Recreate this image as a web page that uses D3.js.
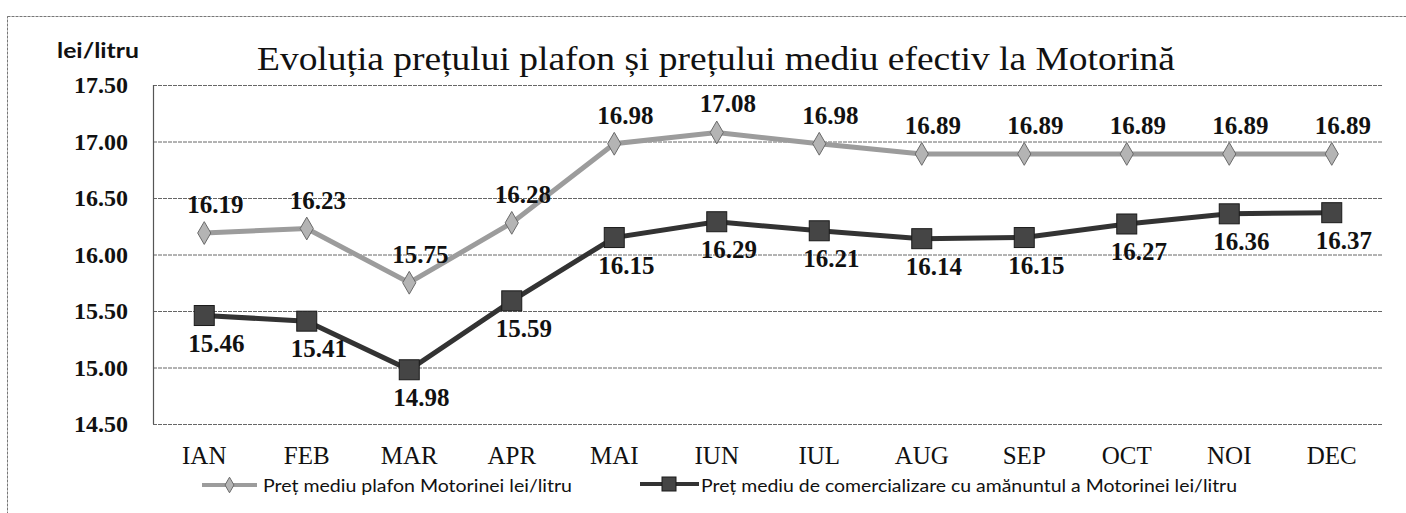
<!DOCTYPE html>
<html>
<head>
<meta charset="utf-8">
<script src="https://cdn.jsdelivr.net/npm/d3@7"></script>
<style>
  body { margin: 0; background: #fff; }
  svg { display: block; }
</style>
</head>
<body>
<div id="chart"></div>
<script>
const months = ["IAN", "FEB", "MAR", "APR", "MAI", "IUN", "IUL", "AUG", "SEP", "OCT", "NOI", "DEC"];
const plafon = [16.19, 16.23, 15.75, 16.28, 16.98, 17.08, 16.98, 16.89, 16.89, 16.89, 16.89, 16.89];
const mediu = [15.46, 15.41, 14.98, 15.59, 16.15, 16.29, 16.21, 16.14, 16.15, 16.27, 16.36, 16.37];
const yTicks = [14.5, 15.0, 15.5, 16.0, 16.5, 17.0, 17.5];
const seriesNames = [
  "Preț mediu plafon Motorinei lei/litru",
  "Preț mediu de comercializare cu amănuntul a Motorinei lei/litru"
];
const titleText = "Evoluția prețului plafon și prețului mediu efectiv la Motorină";
const unitText = "lei/litru";

const width = 1406;
const height = 513;
const margin = { top: 85, left: 153, bottom: 89, right: 23 };
const iwidth = width - margin.left - margin.right;
const iheight = height - margin.top - margin.bottom;

const serif = "Liberation Serif";
const sans = "Lato";

const svg = d3.select("#chart").append("svg")
  .attr("width", width)
  .attr("height", height);

// outer frame (only top and left edges are visible)
svg.append("rect")
  .attr("x", 7.5).attr("y", 16.5)
  .attr("width", width + 20).attr("height", height + 20)
  .attr("fill", "none")
  .attr("stroke", "#777")
  .attr("stroke-dasharray", "3,1");

const g = svg.append("g")
  .attr("transform", `translate(${margin.left},${margin.top})`);

const x = d3.scaleBand().domain(months).range([0, iwidth]);
const cx = (m) => x(m) + x.bandwidth() / 2;
const y = d3.scaleLinear().domain([14.5, 17.5]).range([iheight, 0]);

const boldSerif = (sel, size) => sel
  .style("font-family", serif)
  .style("font-size", size + "px")
  .style("font-weight", "bold")
  .attr("fill", "#111");

// gridlines
g.append("g")
  .call(d3.axisLeft(y).tickValues(yTicks).tickSize(-iwidth).tickFormat(""))
  .call(a => a.select(".domain").remove())
  .call(a => a.selectAll("line")
    .attr("stroke", "#666")
    .attr("stroke-width", 1)
    .attr("stroke-dasharray", "4,1"));

// vertical axis line
g.append("line")
  .attr("x1", 0.5).attr("x2", 0.5)
  .attr("y1", 0).attr("y2", iheight)
  .attr("stroke", "#555").attr("stroke-width", 1.2);

// y tick labels
g.append("g")
  .call(d3.axisLeft(y).tickValues(yTicks).tickSize(0).tickPadding(25).tickFormat(d3.format(".2f")))
  .call(a => a.select(".domain").remove())
  .call(a => a.selectAll("text")
    .call(boldSerif, 24)
    .attr("dy", "0.33em"));

// x tick labels
g.append("g")
  .attr("transform", `translate(0,${iheight})`)
  .call(d3.axisBottom(x).tickSize(0).tickPadding(22))
  .call(a => a.select(".domain").remove())
  .call(a => a.selectAll("text")
    .style("font-family", serif)
    .style("font-size", "25px")
    .attr("fill", "#111"));

const line = d3.line()
  .x((d, i) => cx(months[i]))
  .y(d => y(d));

// plafon series
g.append("path")
  .datum(plafon)
  .attr("fill", "none")
  .attr("stroke", "#9c9c9c")
  .attr("stroke-width", 5)
  .attr("d", line);

const diamond = d3.symbol().type(d3.symbolDiamond).size(150);
g.selectAll(".dia")
  .data(plafon)
  .enter().append("path")
  .attr("class", "dia")
  .attr("d", diamond)
  .attr("transform", (d, i) => `translate(${cx(months[i])},${y(d)})`)
  .attr("fill", "#b4b4b4")
  .attr("stroke", "#6a6a6a")
  .attr("stroke-width", 1);

// mediu series
g.append("path")
  .datum(mediu)
  .attr("fill", "none")
  .attr("stroke", "#333")
  .attr("stroke-width", 5)
  .attr("d", line);

g.selectAll(".sq")
  .data(mediu)
  .enter().append("rect")
  .attr("class", "sq")
  .attr("x", (d, i) => cx(months[i]) - 10)
  .attr("y", d => y(d) - 10)
  .attr("width", 20)
  .attr("height", 20)
  .attr("fill", "#454545")
  .attr("stroke", "#1a1a1a")
  .attr("stroke-width", 1);

// data labels
g.selectAll(".lblA")
  .data(plafon)
  .enter().append("text")
  .attr("class", "lblA")
  .attr("x", (d, i) => cx(months[i]) + 11)
  .attr("y", d => y(d) - 20)
  .attr("text-anchor", "middle")
  .text(d => d.toFixed(2))
  .call(boldSerif, 25);

g.selectAll(".lblB")
  .data(mediu)
  .enter().append("text")
  .attr("class", "lblB")
  .attr("x", (d, i) => cx(months[i]) + 12)
  .attr("y", d => y(d) + 36)
  .attr("text-anchor", "middle")
  .text(d => d.toFixed(2))
  .call(boldSerif, 25);

// title and unit
svg.append("text")
  .attr("x", 257).attr("y", 70)
  .style("font-family", serif)
  .style("font-size", "34px")
  .attr("fill", "#111")
  .attr("textLength", 918)
  .attr("lengthAdjust", "spacingAndGlyphs")
  .text(titleText);

svg.append("text")
  .attr("x", 57).attr("y", 58)
  .style("font-family", sans)
  .style("font-size", "21px")
  .style("font-weight", "bold")
  .attr("fill", "#111")
  .attr("textLength", 82)
  .attr("lengthAdjust", "spacingAndGlyphs")
  .text(unitText);

// legend
const legend = svg.append("g");
const leg1 = legend.append("g");
leg1.append("line")
  .attr("x1", 202).attr("x2", 257).attr("y1", 485).attr("y2", 485)
  .attr("stroke", "#9c9c9c").attr("stroke-width", 4);
leg1.append("path")
  .attr("d", d3.symbol().type(d3.symbolDiamond).size(70))
  .attr("transform", "translate(229.5,485)")
  .attr("fill", "#b4b4b4").attr("stroke", "#6a6a6a");
leg1.append("text")
  .attr("x", 263).attr("y", 492)
  .style("font-family", sans).style("font-size", "17px").attr("fill", "#111")
  .attr("textLength", 309).attr("lengthAdjust", "spacingAndGlyphs")
  .text(seriesNames[0]);

const leg2 = legend.append("g");
leg2.append("line")
  .attr("x1", 640).attr("x2", 699).attr("y1", 484).attr("y2", 484)
  .attr("stroke", "#333").attr("stroke-width", 4);
leg2.append("rect")
  .attr("x", 662).attr("y", 477).attr("width", 14).attr("height", 14)
  .attr("fill", "#454545").attr("stroke", "#1a1a1a");
leg2.append("text")
  .attr("x", 701).attr("y", 492)
  .style("font-family", sans).style("font-size", "17px").attr("fill", "#111")
  .attr("textLength", 536).attr("lengthAdjust", "spacingAndGlyphs")
  .text(seriesNames[1]);
</script>
</body>
</html>
